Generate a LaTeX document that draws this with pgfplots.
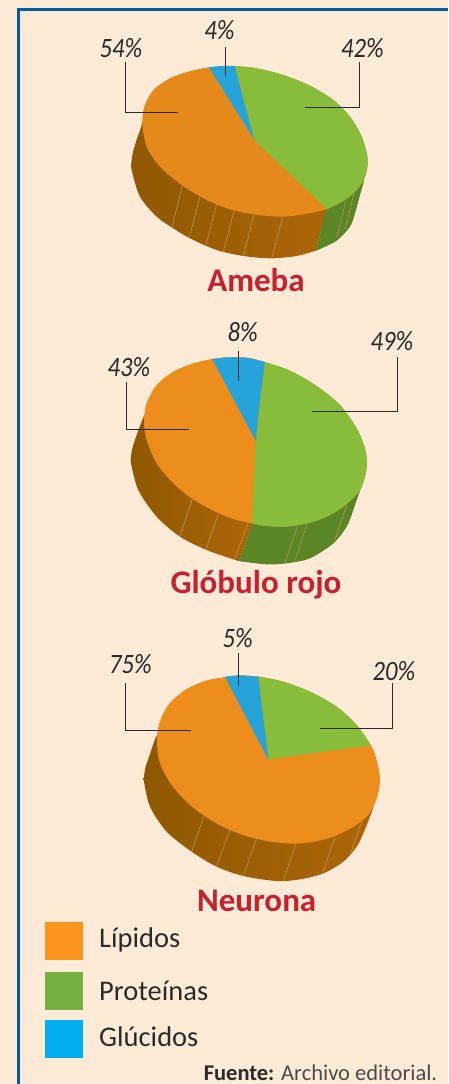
\documentclass[border=0pt]{standalone}
\usepackage{pgfplots}
\usepackage{fontspec}
\setmainfont{Carlito}
\newfontfamily\pctfont[FakeStretch=0.88]{Carlito}
\pgfplotsset{compat=1.18}
\definecolor{bg}{HTML}{FEEBD7}
\definecolor{frame}{HTML}{005B9F}
\definecolor{orgA}{HTML}{E6891B}
\definecolor{org}{HTML}{EC8D1C}
\definecolor{grn}{HTML}{87BD3B}
\definecolor{blu}{HTML}{26A3D9}
\definecolor{sideA}{HTML}{8F5800}
\definecolor{sideB}{HTML}{AD6608}
\definecolor{sideG}{HTML}{5A8626}
\definecolor{ink}{HTML}{2B2A2A}
\definecolor{ttl}{HTML}{C8202F}
\definecolor{seam}{HTML}{C49A62}
\definecolor{lgO}{HTML}{F9951D}
\definecolor{lgG}{HTML}{76B043}
\definecolor{lgB}{HTML}{00AEEF}
\tikzset{
  pct/.style={font=\fontsize{28}{28}\pctfont\itshape, text=ink, inner sep=0pt},
  ttlnode/.style={font=\fontsize{33}{33}\selectfont\bfseries, text=ttl, inner sep=0pt},
  lg/.style={font=\fontsize{28.5}{28.5}\selectfont, text=ink, inner sep=0pt, anchor=base west},
}
\begin{document}
\begin{tikzpicture}
\begin{axis}[
  scale only axis, width=448pt, height=1084pt,
  xmin=0, xmax=1344, ymin=0, ymax=3252, y dir=reverse,
  axis lines=none, xtick=\empty, ytick=\empty,
  wedge/.style={draw=none, no markers, smooth},
  side/.style={draw=none, no markers, smooth, shade, shading=axis, left color=sideA, right color=sideB},
  sideg/.style={draw=none, no markers, smooth, fill=sideG},
  seamline/.style={draw=seam, line width=0.5pt, no markers},
  lead/.style={draw=ink, line width=1pt, no markers},
  g2/.style={y filter/.expression={y+900}},
  g3/.style={y filter/.expression={y+1830}},
]
% background and frame
\addplot[draw=none, fill=bg, no markers] coordinates {(0,0) (1344,0) (1344,3252) (0,3252)} -- cycle;
\addplot[draw=frame, line width=2.6pt, no markers] coordinates {(56,3252) (56,29) (1344,29)};

% ---------- Ameba: 54 / 42 / 4
\addplot[side] coordinates {(500,450) (445,372) (430,362) (420,392) (411,416) (400,452) (395,480) (395,510) (420,590) (470,650) (520,685) (570,715) (650,750) (730,768) (815,775) (890,768) (938,755) (948,752) (950,742) (964,690) (978,637) (980,627) (970,620) (840,600)} -- cycle;
\addplot[sideg] coordinates {(1060,560) (1080,548) (1092,540) (1080,585) (1065,640) (1050,680) (1010,722) (958,748) (948,752) (950,742) (961,700) (975,640) (980,627) (990,615)} -- cycle;
\addplot[seamline] coordinates {(547,557) (517,678)};
\addplot[seamline] coordinates {(600,590) (568,712)};
\addplot[seamline] coordinates {(650,612) (618,735)};
\addplot[seamline] coordinates {(702,632) (670,755)};
\addplot[seamline] coordinates {(762,645) (730,768)};
\addplot[seamline] coordinates {(848,650) (815,775)};
\addplot[seamline] coordinates {(1038,602) (1010,712)};
\addplot[seamline] coordinates {(1062,580) (1035,690)};
\addplot[wedge, fill=orgA] coordinates {(627,202) (704,198) (770,205) (850,225) (930,257) (1000,300) (1050,350) (1085,410) (1103,475) (1097,525) (1075,565) (1035,600) (980,627) (910,643) (840,650) (760,643) (690,628) (620,600) (545,555) (480,500) (440,440) (427,370) (433,320) (460,270) (510,235) (565,215) (627,202) (704,198) (770,205)} -- cycle;
\addplot[wedge, fill=grn] coordinates {(763,420) (761,412) (733,309) (706,206) (704,198) (712,199) (770,205) (850,225) (930,257) (1000,300) (1050,350) (1085,410) (1103,475) (1097,525) (1075,565) (1035,600) (987,624) (980,627) (974,621) (871,523) (769,426)} -- cycle;
\addplot[wedge, fill=blu] coordinates {(763,420) (759,413) (695,311) (632,210) (627,202) (635,201) (665,198) (696,198) (704,198) (706,206) (733,309) (761,412)} -- cycle;
\addplot[lead] coordinates {(376,187) (376,338) (533,338)};
\addplot[lead] coordinates {(677,142) (677,227)};
\addplot[lead] coordinates {(1077,185) (1077,323) (915,323)};
\node[pct] at (axis cs:363,145) {54\%};
\node[pct] at (axis cs:658,90) {4\%};
\node[pct] at (axis cs:1087,145) {42\%};
\node[ttlnode] at (axis cs:768,841) {Ameba};

% ---------- Globulo rojo: 43 / 49 / 8
\addplot[side, g2] coordinates {(600,500) (455,365) (436,345) (428,357) (410,405) (397,445) (393,470) (393,490) (415,570) (470,650) (540,710) (620,750) (700,778) (710,781) (718,783) (721,773) (740,720) (754,680) (757,670) (750,660)} -- cycle;
\addplot[sideg, g2] coordinates {(1000,600) (770,660) (757,670) (754,680) (740,720) (721,773) (718,783) (728,785) (800,793) (860,790) (930,775) (1000,730) (1040,680) (1060,630) (1075,585) (1082,565) (1070,560)} -- cycle;
\addplot[seamline, g2] coordinates {(577,597) (540,708)};
\addplot[seamline, g2] coordinates {(655,642) (617,750)};
\addplot[seamline, g2] coordinates {(745,668) (703,778)};
\addplot[seamline, g2] coordinates {(893,677) (855,788)};
\addplot[seamline, g2] coordinates {(921,672) (885,782)};
\addplot[seamline, g2] coordinates {(1040,615) (1005,720)};
\addplot[wedge, fill=org, g2] coordinates {(637,177) (680,172) (740,173) (794,186) (870,212) (950,258) (1020,315) (1070,385) (1095,445) (1101,490) (1095,530) (1080,570) (1040,612) (990,645) (930,668) (860,680) (800,678) (757,670) (700,657) (640,632) (575,595) (520,550) (470,490) (440,420) (432,365) (440,310) (470,255) (520,215) (580,190) (637,177) (680,172) (740,173)} -- cycle;
\addplot[wedge, fill=grn, g2] coordinates {(767,422) (768,412) (780,304) (793,196) (794,186) (804,189) (870,212) (950,258) (1020,315) (1070,385) (1095,445) (1101,490) (1095,530) (1080,570) (1040,612) (990,645) (930,668) (860,680) (800,678) (766,672) (757,670) (757,660) (762,546) (767,432)} -- cycle;
\addplot[wedge, fill=blu, g2] coordinates {(767,422) (762,413) (702,300) (642,187) (637,177) (647,176) (680,172) (740,173) (784,183) (794,186) (793,196) (780,304) (768,412)} -- cycle;
\addplot[lead, g2] coordinates {(714,152) (714,242)};
\addplot[lead, g2] coordinates {(380,245) (380,388) (567,388)};
\addplot[lead, g2] coordinates {(1192,172) (1192,334) (935,334)};
\node[pct] at (axis cs:728,997) {8\%};
\node[pct] at (axis cs:387,1100) {43\%};
\node[pct] at (axis cs:1176,1023) {49\%};
\node[ttlnode] at (axis cs:768,1755) {Glóbulo rojo};

% ---------- Neurona: 75 / 20 / 5
\addplot[side, g3] coordinates {(800,500) (495,385) (476,375) (466,385) (450,432) (437,470) (432,500) (432,515) (450,590) (500,665) (575,725) (650,770) (730,798) (830,813) (900,808) (970,790) (1030,755) (1070,710) (1090,670) (1108,625) (1120,590) (1110,580)} -- cycle;
\addplot[seamline, g3] coordinates {(612,617) (575,725)};
\addplot[seamline, g3] coordinates {(690,660) (650,768)};
\addplot[seamline, g3] coordinates {(770,685) (730,797)};
\addplot[seamline, g3] coordinates {(888,701) (850,812)};
\addplot[seamline, g3] coordinates {(1005,683) (968,788)};
\addplot[seamline, g3] coordinates {(1085,635) (1052,730)};
\addplot[wedge, fill=org, g3] coordinates {(675,201) (720,196) (775,200) (850,215) (930,245) (1010,290) (1070,345) (1113,406) (1130,450) (1140,505) (1132,560) (1105,615) (1060,650) (1000,680) (940,695) (880,701) (800,693) (720,672) (640,635) (570,585) (515,525) (480,460) (471,395) (478,340) (505,285) (555,240) (615,213) (675,201) (720,196) (775,200)} -- cycle;
\addplot[wedge, fill=grn, g3] coordinates {(805,448) (804,438) (790,324) (776,210) (775,200) (785,201) (850,215) (930,245) (1010,290) (1070,345) (1107,398) (1113,406) (1103,407) (959,427) (815,447)} -- cycle;
\addplot[wedge, fill=blu, g3] coordinates {(805,448) (800,439) (740,325) (680,210) (675,201) (685,199) (720,196) (765,199) (775,200) (776,210) (790,324) (804,438)} -- cycle;
\addplot[lead, g3] coordinates {(716,130) (716,228)};
\addplot[lead, g3] coordinates {(377,220) (377,361) (572,361)};
\addplot[lead, g3] coordinates {(1177,218) (1177,354) (960,354)};
\node[pct] at (axis cs:713,1915) {5\%};
\node[pct] at (axis cs:391,1992) {75\%};
\node[pct] at (axis cs:1182,2013) {20\%};
\node[ttlnode] at (axis cs:770,2702) {Neurona};

% ---------- Legend
\addplot[draw=none, no markers, fill=lgO] coordinates {(135,2766) (249,2766) (249,2880) (135,2880)} -- cycle;
\addplot[draw=none, no markers, fill=lgG] coordinates {(135,2916) (249,2916) (249,3030) (135,3030)} -- cycle;
\addplot[draw=none, no markers, fill=lgB] coordinates {(135,3060) (249,3060) (249,3174) (135,3174)} -- cycle;
\node[lg] at (axis cs:297,2843) {Lípidos};
\node[lg] at (axis cs:297,3002) {Proteínas};
\node[lg] at (axis cs:297,3140) {Glúcidos};
\node[font=\fontsize{22.5}{22.5}\selectfont, text=ink, inner sep=0pt, anchor=base east] at (axis cs:1312,3240) {\textbf{Fuente:} \textcolor{ink!85}{Archivo editorial.}};
\end{axis}
\end{tikzpicture}
\end{document}
